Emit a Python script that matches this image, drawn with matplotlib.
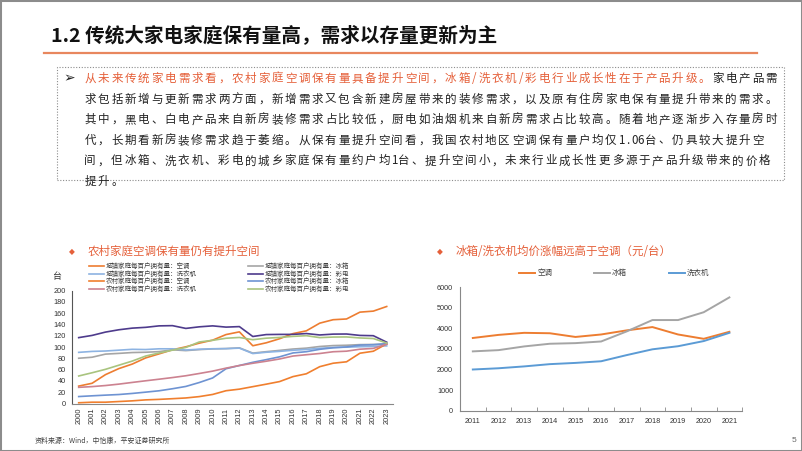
import numpy as np
import matplotlib
matplotlib.use("Agg")
import matplotlib.pyplot as plt
from matplotlib.lines import Line2D
from matplotlib.patches import Rectangle
from matplotlib.ticker import FixedLocator

CJK = ["Noto Sans CJK SC", "DejaVu Sans"]
NUM = ["Liberation Sans", "DejaVu Sans"]
plt.rcParams["font.family"] = CJK

# ---- data: left chart (台/百户) ----
years_l = [str(y) for y in range(2000, 2024)]
city_ac = [30.8, 35.8, 51.1, 61.8, 69.8, 80.7, 87.8, 95.1, 100.3, 106.8, 112.1, 122.0,
           126.8, 102.2, 107.4, 114.6, 123.7, 128.6, 142.2, 148.3, 149.6, 161.7, 163.5, 171.7]
city_fridge = [80.1, 81.9, 87.4, 88.7, 90.2, 90.7, 91.8, 95.0, 93.6, 95.4, 96.6, 97.2,
               98.5, 89.2, 91.7, 94.0, 96.4, 98.0, 100.9, 102.5, 103.1, 104.2, 104.5, 105.0]
city_washer = [90.5, 92.2, 92.9, 94.4, 95.9, 95.5, 96.8, 96.8, 94.7, 96.0, 96.9, 97.1,
               98.0, 88.4, 90.7, 92.3, 94.2, 95.7, 97.7, 99.2, 99.7, 100.5, 101.0, 102.0]
city_tv = [116.6, 120.5, 126.4, 130.5, 133.4, 134.8, 137.4, 137.8, 132.9, 135.7, 137.4, 135.2,
           136.1, 118.6, 122.0, 122.3, 122.3, 123.8, 121.3, 122.8, 123.0, 120.5, 120.0, 108.5]
rural_ac = [1.3, 2.3, 2.3, 3.5, 4.7, 6.4, 7.3, 8.5, 9.8, 12.2, 16.0, 22.6,
            25.4, 29.8, 34.2, 38.8, 47.6, 52.6, 65.2, 71.3, 73.8, 89.0, 92.5, 105.6]
rural_fridge = [12.3, 13.6, 14.8, 15.9, 17.8, 20.1, 22.5, 26.1, 30.2, 37.1, 45.2, 61.5,
                67.3, 72.9, 77.6, 82.6, 89.5, 91.7, 95.9, 98.6, 100.1, 103.4, 104.0, 106.0]
rural_washer = [28.6, 29.9, 31.8, 34.3, 37.3, 40.2, 43.0, 45.9, 49.1, 53.1, 57.3, 62.6,
                67.2, 71.2, 74.8, 78.8, 84.0, 86.3, 88.5, 91.6, 92.6, 96.1, 97.5, 105.0]
rural_tv = [48.7, 54.4, 60.5, 67.8, 75.1, 84.0, 89.4, 94.4, 99.2, 108.9, 111.8, 115.5,
            116.9, 112.9, 115.6, 116.9, 118.8, 120.0, 116.6, 117.6, 117.8, 116.0, 115.0, 107.0]

# ---- data: right chart (元/台) ----
years_r = [str(y) for y in range(2011, 2022)]
price_ac = [3530, 3680, 3780, 3760, 3580, 3700, 3900, 4060, 3700, 3490, 3830]
price_fridge = [2880, 2940, 3120, 3250, 3280, 3360, 3850, 4400, 4400, 4780, 5500]
price_washer = [2000, 2060, 2150, 2260, 2320, 2400, 2700, 2980, 3130, 3380, 3780]

W, H = 802, 451
fig = plt.figure(figsize=(W / 100, H / 100), dpi=100)


def fx(x):
    return x / W


def fy(y):
    return 1 - y / H


def axes_px(l, t, r, b):
    return fig.add_axes([fx(l), fy(b), (r - l) / W, (b - t) / H])


# page frame
fig.add_artist(Rectangle((0, 0), 1, 1, transform=fig.transFigure, fill=False,
                         edgecolor="#8C8C8C", lw=2.2))

# header
fig.text(fx(51), fy(36), "1.2 传统大家电家庭保有量高，需求以存量更新为主", fontsize=14.1,
         weight="bold", va="center", color="#111111")
fig.add_artist(Line2D([fx(44), fx(757)], [fy(52.5)] * 2, color="#E8875E", lw=1.6))

# dotted text box
fig.add_artist(Rectangle((fx(57), fy(179.5)), (784 - 57) / W, (179.5 - 66.5) / H,
                         transform=fig.transFigure, fill=False, edgecolor="#8C8C8C",
                         lw=0.8, linestyle=(0, (1, 1.5))))
fig.text(fx(69.5), fy(78.5), "➢", fontsize=10, family="DejaVu Sans", ha="center",
         va="center", color="#222222")

RED = "#E5603A"
body = [
    [("从未来传统家电需求看，农村家庭空调保有量具备提升空间，冰箱/洗衣机/彩电行业成长性在于产品升级。", RED),
     ("家电产品需", "#222222")],
    [("求包括新增与更新需求两方面，新增需求又包含新建房屋带来的装修需求，以及原有住房家电保有量提升带来的需求。", "#222222")],
    [("其中，黑电、白电产品来自新房装修需求占比较低，厨电如油烟机来自新房需求占比较高。随着地产逐渐步入存量房时", "#222222")],
    [("代，长期看新房装修需求趋于萎缩。从保有量提升空间看，我国农村地区空调保有量户均仅1.06台、仍具较大提升空", "#222222")],
    [("间，但冰箱、洗衣机、彩电的城乡家庭保有量约户均1台、提升空间小，未来行业成长性更多源于产品升级带来的价格", "#222222")],
    [("提升。", "#222222")],
]
pitch = 13.35
y0 = 78.5
for i, segs in enumerate(body):
    x = 83.5
    y = y0 + i * 20.6
    for s, col in segs:
        for ch in s:
            w = pitch * (0.5 if ord(ch) < 128 else 1.0)
            fig.text(fx(x + w / 2), fy(y), ch, fontsize=8.3, ha="center", va="center",
                     color=col)
            x += w

# section titles
fig.text(fx(72), fy(252), "◆", fontsize=5.5, family="DejaVu Sans", ha="center",
         va="center", color=RED)
fig.text(fx(88), fy(251.5), "农村家庭空调保有量仍有提升空间", fontsize=8.3, va="center", color=RED)
fig.text(fx(440), fy(251.5), "◆", fontsize=5.5, family="DejaVu Sans", ha="center",
         va="center", color=RED)
fig.text(fx(456), fy(251.5), "冰箱/洗衣机均价涨幅远高于空调（元/台）", fontsize=8.3, va="center",
         color=RED)

# ---- left chart ----
series_l = [
    ("城镇家庭每百户拥有量：空调", city_ac, "#ED7D31"),
    ("城镇家庭每百户拥有量：冰箱", city_fridge, "#A5A5A5"),
    ("城镇家庭每百户拥有量：洗衣机", city_washer, "#8DB3E2"),
    ("城镇家庭每百户拥有量：彩电", city_tv, "#4E3B8C"),
    ("农村家庭每百户拥有量：空调", rural_ac, "#F07F2E"),
    ("农村家庭每百户拥有量：冰箱", rural_fridge, "#6E93D2"),
    ("农村家庭每百户拥有量：洗衣机", rural_washer, "#CC8290"),
    ("农村家庭每百户拥有量：彩电", rural_tv, "#A9C47F"),
]
ax1 = axes_px(72, 290.5, 393.4, 403.5)
xl = np.arange(len(years_l))
for name, vals, col in series_l:
    ax1.plot(xl, vals, color=col, lw=1.2, solid_joinstyle="round")
ax1.set_xlim(-0.5, len(years_l) - 0.5)
ax1.set_ylim(0, 200)
ax1.set_yticks(range(0, 201, 20))
ax1.set_xticks(xl)
ax1.set_xticklabels(years_l, rotation=90, fontsize=5.3, family=NUM, color="#333333")
ax1.tick_params(axis="y", length=0, pad=4.3, labelsize=5.3, labelcolor="#333333")
ax1.tick_params(axis="x", length=0, pad=3.0)
for t in ax1.get_yticklabels():
    t.set_family(NUM)
for s in ["top", "right"]:
    ax1.spines[s].set_visible(False)
ax1.spines["left"].set_color("#555555")
ax1.spines["bottom"].set_color("#888888")
ax1.spines["left"].set_linewidth(0.8)
ax1.spines["bottom"].set_linewidth(0.8)
fig.text(fx(57), fy(277), "台", fontsize=6.5, ha="center", va="center", color="#333333")

# manual legend (row-major 2 columns)
rows_y = [266, 273.5, 281, 288.5]
cols_x = [89, 248]
for k, (name, vals, col) in enumerate(series_l):
    r, c = k // 2, k % 2
    x = cols_x[c]
    y = rows_y[r]
    fig.add_artist(Line2D([fx(x), fx(x + 15)], [fy(y)] * 2, color=col, lw=1.2))
    fig.text(fx(x + 17), fy(y), name, fontsize=4.7, va="center", color="#404040")

# ---- right chart ----
ax2 = axes_px(460, 287.1, 742.2, 410.7)
xr = np.arange(len(years_r))
series_r = [("空调", price_ac, "#ED7D31"), ("冰箱", price_fridge, "#A5A5A5"),
            ("洗衣机", price_washer, "#5B9BD5")]
for name, vals, col in series_r:
    ax2.plot(xr, vals, color=col, lw=1.4, solid_joinstyle="round")
ax2.set_xlim(-0.5, len(years_r) - 0.5)
ax2.set_ylim(0, 6000)
ax2.set_yticks(range(0, 6001, 1000))
ax2.set_xticks(xr)
ax2.set_xticklabels(years_r, fontsize=5.2, family=NUM, color="#333333")
ax2.xaxis.set_minor_locator(FixedLocator(np.arange(-0.5, len(years_r), 1.0)))
ax2.tick_params(axis="x", which="major", length=0, pad=5)
ax2.tick_params(axis="x", which="minor", length=3, direction="in", color="#888888")
ax2.tick_params(axis="y", length=0, pad=5, labelsize=5.2, labelcolor="#333333")
for t in ax2.get_yticklabels():
    t.set_family(NUM)
for s in ["top", "right"]:
    ax2.spines[s].set_visible(False)
for s in ["left", "bottom"]:
    ax2.spines[s].set_color("#888888")
    ax2.spines[s].set_linewidth(0.8)

for (name, vals, col), x in zip(series_r, [519, 594, 669]):
    fig.add_artist(Line2D([fx(x), fx(x + 16)], [fy(273.3)] * 2, color=col, lw=1.4))
    fig.text(fx(x + 18), fy(273.3), name, fontsize=5.4, va="center", color="#404040")

# footer
fig.text(fx(35), fy(441), "资料来源：Wind，中怡康，平安证券研究所", fontsize=5, va="center",
         color="#404040")
fig.text(fx(794), fy(440), "5", fontsize=6, ha="center", va="center", color="#666666",
         family=NUM)

fig.savefig("out.png", dpi=100)
